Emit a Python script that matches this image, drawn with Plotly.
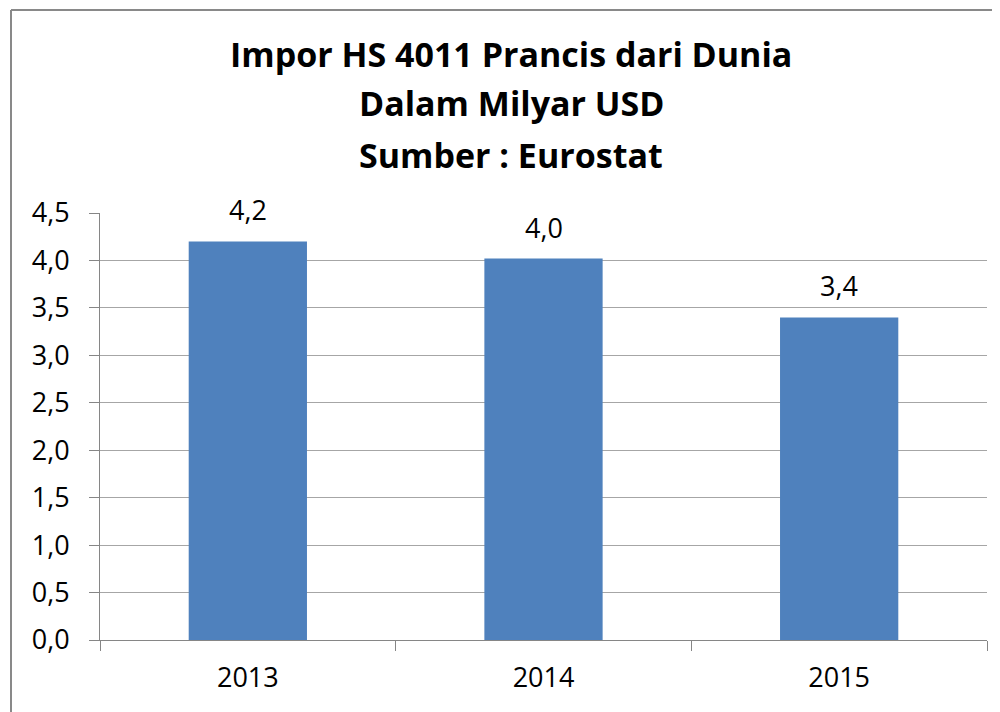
import plotly.graph_objects as go

years = ["2013", "2014", "2015"]
values = [4.2, 4.02, 3.4]
labels = ["4,2", "4,0", "3,4"]
title_lines = ["Impor HS 4011 Prancis dari Dunia", "Dalam Milyar USD", "Sumber : Eurostat"]

FONT = "Open Sans"
GRID = "#A6A6A6"
AXIS = "#868686"
OFF = 8  # page offset of the figure in the screenshot
FW, FH = 1000 - OFF, 712 - OFF

fig = go.Figure()
fig.add_trace(go.Bar(
    x=years, y=values, marker=dict(color="#4F81BD", line=dict(width=0)),
    width=0.4, hoverinfo="skip",
))

# data labels (x given as category index)
for i, (v, t) in enumerate(zip(values, labels)):
    fig.add_annotation(x=i, y=v, text=t, showarrow=False, yanchor="bottom",
                       yshift=11, font=dict(family=FONT, size=27, color="#000000"))

# plot area in screen pixels: x 100..987, y 213..640
L = 100 - OFF
T = 213 - OFF
R = FW - (987 - OFF)
B = FH - (640 - OFF)
W, H = FW - L - R, FH - T - B

def px_x(p):
    return (p - OFF - L) / W

def px_y(p):
    return (FH - B - (p - OFF)) / H

for line, yc in zip(title_lines, [54, 103, 155]):
    fig.add_annotation(x=px_x(511), y=px_y(yc), xref="paper", yref="paper",
                       text="<b>" + line + "</b>", showarrow=False,
                       xanchor="center", yanchor="middle",
                       font=dict(family=FONT, size=34, color="#000000"))

# chart border (only top and left edges are visible in the frame)
BORDER = dict(color="#898989", width=2)
fig.add_shape(type="line", xref="paper", yref="paper",
              x0=px_x(11), y0=px_y(10), x1=px_x(1000), y1=px_y(10), line=BORDER)
fig.add_shape(type="line", xref="paper", yref="paper",
              x0=px_x(11), y0=px_y(10), x1=px_x(11), y1=px_y(712), line=BORDER)

fig.update_layout(
    width=FW, height=FH,
    margin=dict(l=L, r=R, t=T, b=B, pad=0, autoexpand=False),
    paper_bgcolor="white", plot_bgcolor="white",
    separators=",.",
    showlegend=False,
    font=dict(family=FONT, size=27, color="#000000"),
)
fig.update_xaxes(
    type="category", range=[-0.5, 2.5], showgrid=False, showline=True,
    linecolor=AXIS, linewidth=1, automargin=False, tickangle=0,
    ticks="outside", tickson="boundaries", ticklen=10, tickcolor=AXIS,
    ticklabelstandoff=14,
    tickfont=dict(family=FONT, size=27), fixedrange=True,
)
fig.update_yaxes(
    range=[0, 4.5], dtick=0.5, tick0=0, tickformat=".1f",
    showgrid=True, gridcolor=GRID, gridwidth=1, automargin=False,
    showline=True, linecolor=AXIS, linewidth=1,
    ticks="outside", ticklen=10, tickcolor=AXIS,
    ticklabelstandoff=14,
    tickfont=dict(family=FONT, size=27), zeroline=False, fixedrange=True,
)

fig.write_html("out.html")
